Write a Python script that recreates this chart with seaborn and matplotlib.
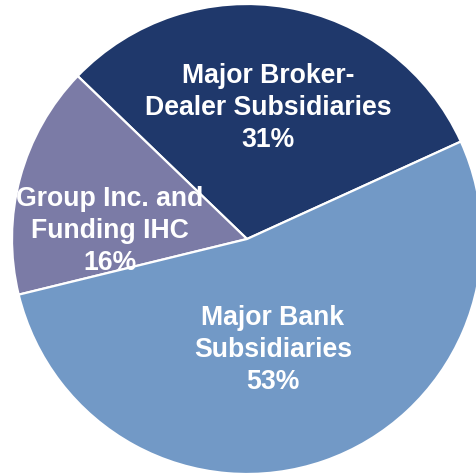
import matplotlib
matplotlib.use("Agg")
import matplotlib.pyplot as plt
import seaborn as sns

sns.set_theme(style="white")
plt.rcParams["font.family"] = ["Liberation Sans", "DejaVu Sans"]

# Composition shares (percent)
categories = ["Major Broker-\nDealer Subsidiaries", "Group Inc. and\nFunding IHC", "Major Bank\nSubsidiaries"]
shares = [31, 16, 53]
colors = ["#1f386b", "#7b7ba6", "#7299c6"]

# label anchor points in data units (radius 1 = pie edge)
label_xy = [(0.09, 0.56), (-0.585, 0.04), (0.11, -0.47)]

fig = plt.figure(figsize=(4.77, 4.77), dpi=100)
ax = fig.add_axes([0, 0, 1, 1])

wedges, _ = ax.pie(
    shares,
    colors=colors,
    startangle=24.5,
    counterclock=True,
    radius=1.0,
    wedgeprops=dict(edgecolor="white", linewidth=1.6),
)

for (x, y), name, val in zip(label_xy, categories, shares):
    ax.text(x, y, f"{name}\n{val}%", ha="center", va="center",
            color="white", fontsize=19.2, fontweight="bold",
            linespacing=1.3)

r_px = 235.0
cx, cy = 247.0, 477.0 - 240.0
ax.set_xlim(-cx / r_px, (477 - cx) / r_px)
ax.set_ylim(-cy / r_px, (477 - cy) / r_px)
ax.set_aspect("equal")
ax.axis("off")

fig.savefig("out.png", dpi=100, facecolor="white")
